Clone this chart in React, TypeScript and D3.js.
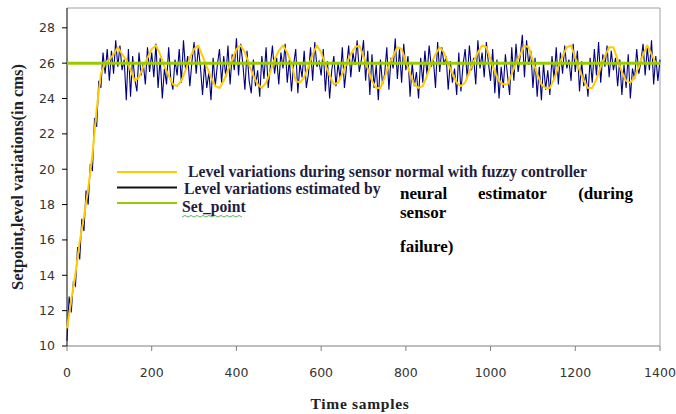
import React from 'react';
import * as d3 from 'd3';

const W = 676;
const H = 414;

// x tick labels and y tick labels
const xTicks = [0, 200, 400, 600, 800, 1000, 1200, 1400];
const yTicks = [10, 12, 14, 16, 18, 20, 22, 24, 26, 28];

const SETPOINT = 26;

// level during sensor normal with fuzzy controller, one value every 10 samples
const normalStep = 10;
const normalLevel = [
  11, 12.6, 14.1, 15.9, 17.3, 18.9, 20.8, 23.4, 25.4, 26.0,
  26.2, 26.5, 26.9, 26.5, 26.2, 25.6, 25.0, 25.2, 25.8, 26.3,
  26.8, 27.0, 26.5, 25.8, 25.3, 24.8, 24.7, 25.0, 25.6, 26.3,
  26.8, 27.0, 26.4, 25.8, 25.2, 24.7, 24.6, 25.0, 25.6, 26.2,
  26.8, 27.0, 26.6, 25.9, 25.3, 24.8, 24.6, 24.9, 25.5, 26.2,
  26.7, 27.0, 26.6, 26.0, 25.0, 24.9, 25.2, 25.8, 26.5, 27.0,
  26.6, 25.9, 25.3, 24.8, 24.9, 25.4, 26.0, 26.5, 26.9, 27.0,
  26.4, 25.7, 25.0, 24.6, 24.6, 25.2, 25.9, 26.4, 26.9, 26.8,
  26.1, 25.4, 24.8, 24.6, 24.7, 25.3, 26.0, 26.5, 26.9, 26.6,
  26.0, 25.4, 24.9, 24.7, 24.9, 25.5, 26.1, 26.6, 27.0, 26.9,
  26.2, 25.5, 25.0, 24.8, 24.8, 25.4, 26.0, 26.5, 27.0, 26.9,
  26.1, 25.4, 24.8, 24.6, 24.6, 25.1, 25.8, 26.4, 26.9, 27.0,
  26.3, 25.6, 25.0, 24.6, 24.6, 25.1, 25.8, 26.4, 26.9, 26.9,
  26.2, 25.5, 25.0, 24.9, 25.2, 25.8, 26.5, 27.0, 26.5, 26.0,
  26.0,
];

// level estimated by neural estimator, one value every 5 samples
const estStep = 5;
const estimatedLevel = [
  10.3, 12.8, 11.9, 13.6, 13.4, 15.6, 14.9, 17.2, 16.5, 18.8, 18.0, 20.3, 19.9, 22.9, 22.4, 25.0, 24.6, 26.6, 25.4, 26.8,
  25.0, 26.7, 25.4, 27.3, 25.8, 27.0, 25.6, 26.2, 23.9, 26.8, 24.1, 26.4, 25.1, 24.4, 26.6, 25.3, 26.0, 24.8, 26.9, 25.5,
  26.6, 25.2, 27.1, 24.6, 26.3, 24.0, 25.7, 24.8, 26.9, 25.1, 24.5, 26.2, 25.3, 26.8, 24.9, 27.3, 25.6, 26.4, 24.7, 26.1,
  27.2, 25.4, 26.9, 25.8, 24.2, 26.0, 24.6, 25.5, 23.9, 26.3, 24.7, 25.9, 26.8, 24.9, 26.4, 25.2, 27.0, 24.8, 26.5, 25.6,
  27.4, 25.3, 27.1, 26.0, 24.5, 26.7, 25.0, 24.3, 26.2, 24.7, 25.6, 24.1, 26.4, 25.1, 26.9, 24.6, 25.8, 27.0, 25.4, 26.3,
  24.8, 26.6, 25.7, 27.1, 24.9, 26.2, 24.4, 25.9, 26.8, 24.3, 26.0, 25.2, 26.7, 24.6, 25.4, 26.9, 25.0, 27.2, 25.8, 26.1,
  25.3, 26.8, 24.4, 26.1, 24.0, 25.6, 26.4, 24.7, 26.0, 25.1, 26.9, 24.6, 25.8, 27.0, 25.2, 26.6, 25.9, 27.3, 25.5, 26.2,
  27.3, 25.0, 26.7, 24.2, 26.5, 24.6, 25.9, 23.9, 26.2, 24.8, 25.4, 26.9, 24.5, 26.3, 25.7, 27.4, 25.1, 26.8, 24.9, 27.1,
  25.6, 26.4, 24.1, 26.0, 24.7, 25.5, 24.0, 26.3, 24.9, 26.7, 25.3, 27.0, 25.8, 26.2, 24.6, 27.2, 25.5, 26.9, 25.9, 26.4,
  24.5, 26.1, 24.9, 25.7, 24.2, 26.6, 24.4, 25.9, 26.8, 25.1, 27.0, 25.6, 26.3, 24.8, 27.3, 25.7, 26.6, 25.2, 27.2, 26.0,
  25.0, 26.8, 24.3, 26.2, 24.0, 25.8, 24.6, 26.5, 25.3, 24.2, 26.9, 25.0, 27.1, 25.5, 26.4, 27.6, 25.2, 27.3, 25.9, 26.7,
  24.6, 26.3, 24.1, 25.8, 23.9, 26.0, 24.5, 25.6, 24.2, 26.4, 25.1, 26.9, 24.8, 26.6, 25.4, 27.0, 25.7, 26.2, 25.0, 27.1,
  25.5, 26.7, 24.4, 26.1, 24.7, 25.4, 24.1, 26.3, 24.9, 26.8, 25.3, 27.2, 24.9, 26.5, 25.8, 27.0, 25.2, 26.7, 25.6, 26.3,
  24.7, 26.2, 24.2, 25.9, 24.6, 26.5, 24.0, 25.7, 25.1, 26.8, 25.4, 26.1, 27.1, 25.3, 26.9, 25.6, 27.3, 24.8, 26.4, 25.0,
  26.2,
];

const margin = { left: 67, right: 16, top: 8, bottom: 68 };

export default function App() {
  const x = d3.scaleLinear().domain([0, 1400]).range([margin.left, W - margin.right]);
  const y = d3.scaleLinear().domain([10, 29.12]).range([H - margin.bottom, margin.top]);

  const normalLine = d3
    .line<number>()
    .x((_, i) => x(i * normalStep))
    .y((d) => y(d));
  const estLine = d3
    .line<number>()
    .x((_, i) => x(i * estStep))
    .y((d) => y(d));

  const x0 = x(0);
  const x1 = x(1400);
  const yb = y(10);
  const yt = margin.top;

  const serif = '"Liberation Serif", "Times New Roman", serif';
  const sans = '"DejaVu Sans", Verdana, sans-serif';
  const legendFont = 15.7;

  return (
    <svg width={W} height={H} style={{ position: 'absolute', left: 0, top: 0, background: '#fff' }}>
      <rect x={0} y={0} width={W} height={H} fill="#fff" />
      {/* plot frame */}
      <line x1={x0} y1={yt} x2={x1} y2={yt} stroke="#a0a0a0" strokeWidth={1} />
      <line x1={x1} y1={yt} x2={x1} y2={yb} stroke="#a0a0a0" strokeWidth={1} />
      <line x1={x0} y1={yb} x2={x1} y2={yb} stroke="#808080" strokeWidth={1} />
      <line x1={x0} y1={yt} x2={x0} y2={yb} stroke="#000" strokeWidth={1} />

      {/* y axis */}
      {yTicks.map((t) => (
        <g key={`y${t}`}>
          <line x1={x0 - 5} x2={x0} y1={y(t)} y2={y(t)} stroke="#000" />
          <text x={x0 - 12} y={y(t)} dy="0.35em" textAnchor="end" fontFamily={sans} fontSize={12.5} fill="#333">
            {t}
          </text>
        </g>
      ))}
      {/* x axis */}
      {xTicks.map((t) => (
        <g key={`x${t}`}>
          <line x1={x(t)} x2={x(t)} y1={yb} y2={yb + 5} stroke="#808080" />
          <text x={x(t)} y={377} textAnchor="middle" fontFamily={sans} fontSize={12.5} fill="#333">
            {t}
          </text>
        </g>
      ))}

      {/* series */}
      <path d={estLine(estimatedLevel) || ''} fill="none" stroke="#000080" strokeWidth={1.1} />
      <path d={normalLine(normalLevel) || ''} fill="none" stroke="#FFCC00" strokeWidth={2} strokeLinejoin="round" />
      <line x1={x0} x2={x1} y1={y(SETPOINT)} y2={y(SETPOINT)} stroke="#99CC00" strokeWidth={3} />

      {/* axis titles */}
      <text
        transform={`translate(23,${(yt + yb) / 2}) rotate(-90)`}
        textAnchor="middle"
        fontFamily={serif}
        fontWeight="bold"
        fontSize={16.5}
        fill="#222"
      >
        Setpoint,level variations(in cms)
      </text>
      <text x={360} y={409} textAnchor="middle" fontFamily={serif} fontWeight="bold" fontSize={15.5} letterSpacing={0.7} fill="#222">
        Time samples
      </text>

      {/* legend */}
      <line x1={117} x2={177} y1={172} y2={172} stroke="#FFCC00" strokeWidth={2} />
      <text x={188} y={177} fontFamily={serif} fontWeight="bold" fontSize={legendFont} fill="#1e1e40">
        Level variations during sensor normal with fuzzy controller
      </text>
      <line x1={117} x2={177} y1={187.5} y2={187.5} stroke="#111" strokeWidth={2} />
      <text x={184} y={194} fontFamily={serif} fontWeight="bold" fontSize={legendFont} fill="#1e1e40">
        Level variations estimated by
      </text>
      <line x1={117} x2={177} y1={203} y2={203} stroke="#99CC00" strokeWidth={2} />
      <text x={182} y={212} fontFamily={serif} fontWeight="bold" fontSize={legendFont} fill="#1e1e40">
        Set_point
      </text>
      <path
        d={d3.range(0, 63, 3).map((d, i) => `${i ? 'L' : 'M'}${182 + d},${i % 2 ? 215.5 : 217}`).join('')}
        fill="none"
        stroke="#3a9a3a"
        strokeWidth={0.8}
      />
      <g fontFamily={serif} fontWeight="bold" fontSize={17} fill="#000">
        <text x={400} y={199}>neural</text>
        <text x={478} y={199}>estimator</text>
        <text x={633} y={199} textAnchor="end">(during</text>
        <text x={400} y={218}>sensor</text>
        <text x={400} y={252}>failure)</text>
      </g>
    </svg>
  );
}
